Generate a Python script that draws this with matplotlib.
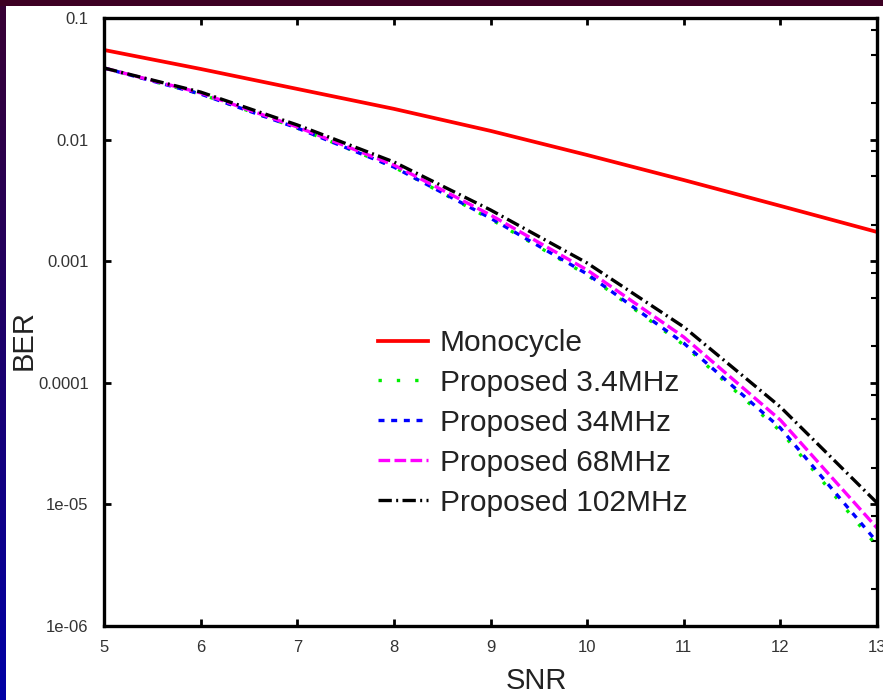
import numpy as np
import matplotlib
matplotlib.use("Agg")
import matplotlib.pyplot as plt
from matplotlib.ticker import FixedLocator, FixedFormatter, LogLocator, NullFormatter

# BER vs SNR read per integer SNR step
snr = [5, 6, 7, 8, 9, 10, 11, 12, 13]
ber_monocycle = [0.0546, 0.0381, 0.0261, 0.0179, 0.0118, 0.00747, 0.00465, 0.00285, 0.00174]
ber_3_4mhz = [0.0388, 0.0237, 0.01245, 0.00595, 0.00222, 7.71e-4, 2.05e-4, 4.01e-5, 4.55e-6]
ber_34mhz = [0.0388, 0.0237, 0.01245, 0.00595, 0.00226, 7.85e-4, 2.12e-4, 4.25e-5, 4.91e-6]
ber_68mhz = [0.0388, 0.0242, 0.0127, 0.00618, 0.00240, 8.47e-4, 2.38e-4, 4.94e-5, 6.40e-6]
ber_102mhz = [0.0388, 0.0246, 0.0132, 0.00655, 0.00264, 9.66e-4, 2.88e-4, 6.33e-5, 1.03e-5]

series_labels = ["Monocycle", "Proposed 3.4MHz", "Proposed 34MHz",
                 "Proposed 68MHz", "Proposed 102MHz"]

y_ticks = [1e-6, 1e-5, 1e-4, 1e-3, 1e-2, 1e-1]
y_tick_labels = ["1e-06", "1e-05", "0.0001", "0.001", "0.01", "0.1"]
x_ticks = [5, 6, 7, 8, 9, 10, 11, 12, 13]
x_tick_labels = ["5", "6", "7", "8", "9", "10", "11", "12", "13"]

W, H = 883, 700
fig = plt.figure(figsize=(W / 100, H / 100), dpi=100)

# slide frame: dark band on top, purple-to-blue band on the left
bg = np.ones((H, W, 3))
bg[:6, :, :] = [0.24, 0.0, 0.14]
t = np.linspace(0, 1, H)[:, None]
left = np.hstack([0.22 * (1 - t), 0.0 * t, 0.2 + 0.45 * t])
bg[:, :6, :] = left[:, None, :]
bg[:6, :6, :] = [0.24, 0.0, 0.14]
bgax = fig.add_axes([0, 0, 1, 1], zorder=-1)
bgax.imshow(bg, aspect="auto", interpolation="bilinear")
bgax.axis("off")

ax = fig.add_axes([104 / W, 1 - 626 / H, 773 / W, 608 / H])
ax.set_facecolor("white")

lw = 2.4
ax.plot(snr, ber_monocycle, color="#ff0000", lw=2.7, label=series_labels[0])
ax.plot(snr, ber_3_4mhz, color="#00ee00", lw=lw, dashes=(1, 4.5), label=series_labels[1])
ax.plot(snr, ber_34mhz, color="#0000ff", lw=lw, dashes=(1.8, 2), label=series_labels[2])
ax.plot(snr, ber_68mhz, color="#ff00ff", lw=lw, dashes=(3.5, 1.3), label=series_labels[3])
ax.plot(snr, ber_102mhz, color="black", lw=lw, dashes=(4, 1.3, 0.6, 1.3), label=series_labels[4])

ax.set_yscale("log")
ax.set_xlim(5, 13)
ax.set_ylim(1e-6, 0.1)

ax.yaxis.set_major_locator(FixedLocator(y_ticks))
ax.yaxis.set_major_formatter(FixedFormatter(y_tick_labels))
ax.yaxis.set_minor_locator(LogLocator(base=10, subs=(2, 5, 8)))
ax.yaxis.set_minor_formatter(NullFormatter())
ax.xaxis.set_major_locator(FixedLocator(x_ticks))
ax.xaxis.set_major_formatter(FixedFormatter(x_tick_labels))

ax.tick_params(which="major", direction="in", length=5, width=2,
               top=True, right=True, labelsize=12, colors="black",
               labelcolor="#333333")
ax.tick_params(axis="x", pad=10)
ax.tick_params(axis="y", pad=11)
ax.tick_params(which="minor", direction="in", length=4, width=1.5,
               left=False, right=True)
for lab in ax.get_xticklabels() + ax.get_yticklabels():
    lab.set_family("Liberation Sans")

for sp in ax.spines.values():
    sp.set_linewidth(2.4)
    sp.set_color("black")

ax.set_xlabel("SNR", fontsize=21, family="Liberation Sans", color="#222222")
ax.xaxis.set_label_coords((536 - 104) / 773, -0.068)
ax.set_ylabel("BER", fontsize=21, family="Liberation Sans", color="#222222")
ax.yaxis.set_label_coords((38 - 104) / 773, (626 - 340) / 608)

leg = ax.legend(loc="upper left", bbox_to_anchor=(378 / W, 1 - 329 / H),
                bbox_transform=fig.transFigure, frameon=False,
                borderaxespad=0, borderpad=0, handlelength=1.67,
                handletextpad=0.4, labelspacing=0.4,
                prop={"family": "Liberation Sans", "size": 21.5})
for txt in leg.get_texts():
    txt.set_color("#222222")

fig.savefig("out.png", dpi=100)
